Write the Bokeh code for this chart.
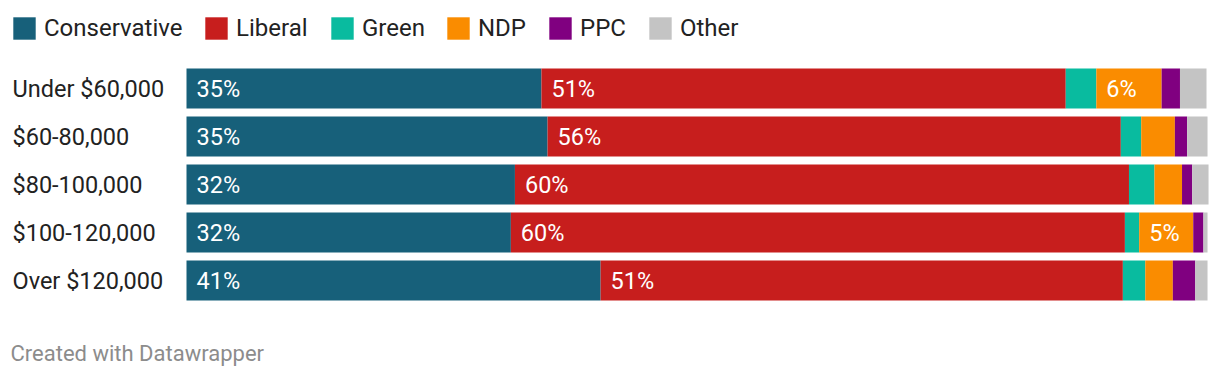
from bokeh.plotting import figure
from bokeh.models import Legend, LegendItem, Label, Range1d, ColumnDataSource
from bokeh.embed import file_html
from bokeh.resources import INLINE

categories = ["Under $60,000", "$60-80,000", "$80-100,000", "$100-120,000", "Over $120,000"]
parties = ["Conservative", "Liberal", "Green", "NDP", "PPC", "Other"]
conservative = [34.8, 35.4, 32.2, 31.8, 40.6]
liberal = [51.4, 56.2, 60.2, 60.2, 51.2]
green = [3.0, 2.0, 2.5, 1.4, 2.2]
ndp = [6.4, 3.3, 2.7, 5.3, 2.7]
ppc = [1.8, 1.2, 1.0, 1.0, 2.2]
other = [2.6, 2.0, 1.6, 0.4, 1.2]
colors = ["#17607a", "#c71e1d", "#09bb9f", "#fa8c00", "#800080", "#c4c4c4"]
footer = "Created with Datawrapper"

W, H = 1220, 378
series = [conservative, liberal, green, ndp, ppc, other]
n = len(categories)
ypos = [n - 1 - i for i in range(n)]  # top row first
data = {"cat": categories, "y": ypos}
for name, vals in zip(parties, series):
    data[name] = vals
source = ColumnDataSource(data)

# layout: bars start at pixel 186, 10.2 px per percent; rows 48 px apart
px_per_pct = 10.2
left_px, row_px, bottom_row_center_px = 186, 48, 280
x_range = Range1d(-left_px / px_per_pct, (W - left_px) / px_per_pct)
y_range = Range1d((bottom_row_center_px - H) / row_px, bottom_row_center_px / row_px)

p = figure(
    width=W, height=H, x_range=x_range, y_range=y_range,
    output_backend="svg", toolbar_location=None,
    x_axis_location=None, y_axis_location=None,
    min_border=0, min_border_left=0, min_border_right=0, min_border_top=0, min_border_bottom=0,
)
p.outline_line_color = None
p.xgrid.visible = False
p.ygrid.visible = False
p.background_fill_color = "white"
p.border_fill_color = "white"

renderers = p.hbar_stack(parties, y="y", height=40 / 48, color=colors,
                         line_color=None, source=source)

# value labels inside wide segments
lx, ly, lt = [], [], []
for i in range(n):
    start = 0.0
    for vals in series:
        v = vals[i]
        if v >= 4.5:
            lx.append(start)
            ly.append(ypos[i])
            lt.append("%d%%" % round(v))
        start += v
p.text(x=lx, y=ly, text=lt, x_offset=10, text_align="left", text_baseline="middle",
       text_font={"value": "Roboto"}, text_font_size="23.5px", text_color="white")

# category labels
for i, cat in enumerate(categories):
    p.add_layout(Label(x=12, x_units="screen", y=ypos[i], text=cat,
                       text_baseline="middle", text_align="left",
                       text_font="Roboto", text_font_size="23.5px", text_color="#222222"))

# legend: one entry per party, placed left to right
legend_x = [10, 202, 328, 444, 546, 646]
for name, r, lxp in zip(parties, renderers, legend_x):
    lg = Legend(
        items=[LegendItem(label=name, renderers=[r])],
        location=(lxp, H - 42), orientation="horizontal",
        glyph_width=28, glyph_height=28, label_height=28, label_standoff=6, spacing=0,
        padding=0, margin=0, border_line_color=None, background_fill_alpha=0,
        label_text_font="Roboto", label_text_font_size="24px", label_text_color="#222222",
    )
    p.add_layout(lg)

p.add_layout(Label(x=10, x_units="screen", y=H - 353, y_units="screen", text=footer,
                   text_baseline="middle", text_align="left",
                   text_font="Roboto", text_font_size="22px", text_color="#8c8c8c"))

open("out.html", "w").write(file_html(p, INLINE))
